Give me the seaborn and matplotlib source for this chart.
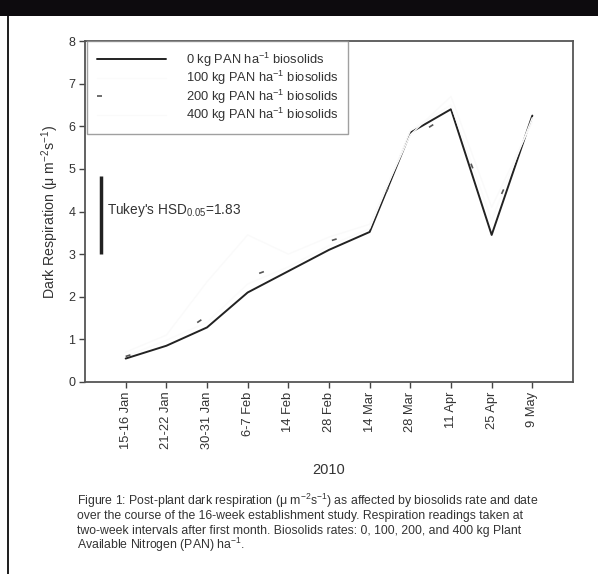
import matplotlib
matplotlib.use("Agg")
import matplotlib.pyplot as plt
import seaborn as sns
import pandas as pd
from matplotlib.patches import Rectangle

dates = ["15-16 Jan", "21-22 Jan", "30-31 Jan", "6-7 Feb", "14 Feb", "28 Feb",
         "14 Mar", "28 Mar", "11 Apr", "25 Apr", "9 May"]
resp_0 = [0.55, 0.85, 1.28, 2.10, 2.60, 3.10, 3.52, 5.85, 6.40, 3.45, 6.25]
resp_100 = [0.60, 0.98, 1.40, 2.30, 2.70, 3.20, 3.60, 5.90, 6.50, 3.80, 6.20]
resp_200 = [0.60, 0.90, 1.55, 2.45, 2.80, 3.30, 3.60, 5.70, 6.30, 3.90, 6.00]
resp_400 = [0.70, 1.10, 2.35, 3.45, 3.00, 3.40, 3.70, 5.80, 6.70, 4.10, 6.10]
series_labels = [r"0 kg PAN ha$^{-1}$ biosolids", r"100 kg PAN ha$^{-1}$ biosolids",
                 r"200 kg PAN ha$^{-1}$ biosolids", r"400 kg PAN ha$^{-1}$ biosolids"]
hsd_low, hsd_value = 3.0, 1.83
y_ticks = [0, 1, 2, 3, 4, 5, 6, 7, 8]
caption_lines = [
    "Figure 1: Post-plant dark respiration (\u03bc m$^{-2}$s$^{-1}$) as affected by biosolids rate and date",
    "over the course of the 16-week establishment study. Respiration readings taken at",
    "two-week intervals after first month. Biosolids rates: 0, 100, 200, and 400 kg Plant",
    "Available Nitrogen (PAN) ha$^{-1}$.",
]

sns.set_style("ticks")
plt.rcParams["font.family"] = ["Liberation Sans", "DejaVu Sans"]
plt.rcParams["mathtext.fontset"] = "custom"
plt.rcParams["mathtext.rm"] = "Liberation Sans"
plt.rcParams["mathtext.it"] = "Liberation Sans:italic"
plt.rcParams["mathtext.default"] = "regular"

fig = plt.figure(figsize=(5.98, 5.74), dpi=100)
ax = fig.add_axes([85/598, 1-382/574, (573-85)/598, (382-41)/574])

xs = list(range(len(dates)))
styles = [
    dict(color="#222222", lw=1.4),
    dict(color="#fbfbfb", lw=1.0),
    dict(color="#555555", lw=1.2, dashes=(3, 45)),
    dict(color="#fafafa", lw=1.0),
]
for vals, lab, st in zip([resp_0, resp_100, resp_200, resp_400], series_labels, styles):
    df = pd.DataFrame({"x": xs, "y": vals})
    kw = dict(st)
    d = kw.pop("dashes", None)
    sns.lineplot(data=df, x="x", y="y", ax=ax, label=lab, **kw)
    if d is not None:
        ax.lines[-1].set_dashes(d)

# Tukey HSD bar
ax.plot([-0.6, -0.6], [hsd_low, hsd_low + hsd_value], color="#222222", lw=2.5,
        solid_capstyle="butt")
ax.text(-0.45, hsd_low + hsd_value / 2 + 0.12, r"Tukey's HSD$_{0.05}$=1.83",
        fontsize=9.8, va="center", ha="left", color="#333333")

ax.set_xlim(-1, 11)
ax.set_ylim(0, 8)
ax.set_xticks(xs)
ax.set_xticklabels(dates, rotation=90, fontsize=9.3, color="#333333")
ax.set_yticks(y_ticks)
ax.set_yticklabels([str(v) for v in y_ticks], fontsize=9, color="#333333")
ax.tick_params(direction="out", length=4, width=1, color="#444444", pad=3)
ax.set_xlabel("2010", fontsize=10.5, color="#333333", labelpad=10)
ax.set_ylabel(r"Dark Respiration ($\mu$ m$^{-2}$s$^{-1}$)", fontsize=10.2,
              color="#333333", labelpad=5)
for sp in ax.spines.values():
    sp.set_visible(True)
    sp.set_color("#555555")
    sp.set_linewidth(1.3)

leg = ax.legend(loc="upper left", bbox_to_anchor=(0.004, 1.0), fontsize=9.3,
                frameon=True, fancybox=False, edgecolor="#888888",
                handlelength=5.4, handletextpad=1.5, labelspacing=0.02,
                borderpad=0.75, borderaxespad=0.0)
leg.get_frame().set_linewidth(1.0)
for t in leg.get_texts():
    t.set_color("#333333")

for i, line in enumerate(caption_lines):
    fig.text(77/598, 1-(505 + 14.5*i)/574, line, fontsize=8.8, va="baseline",
             ha="left", color="#333333")

# page decorations
fig.add_artist(Rectangle((0, 1-16/574), 1, 16/574, transform=fig.transFigure,
                         facecolor="#0d0b0e", edgecolor="none"))
fig.add_artist(Rectangle((7/598, 0), 1.5/598, 1-16/574, transform=fig.transFigure,
                         facecolor="#222222", edgecolor="none"))

fig.savefig("out.png", dpi=100)
